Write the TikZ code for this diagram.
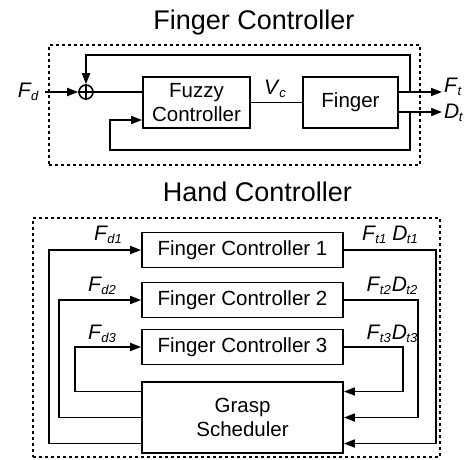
\documentclass[tikz,border=0pt]{standalone}
\usepackage{fontspec}
\setmainfont{Liberation Sans}
\usetikzlibrary{arrows.meta}
\newcommand\Lab[2]{\textit{#1}\kern-0.5pt\raisebox{-3.5pt}{\fontsize{13}{13}\selectfont\textit{#2}}}
\tikzset{
  box/.style={draw, line width=1.8pt, inner sep=0pt, align=center, font=\fontsize{20.5}{24}\selectfont},
  dashbox/.style={draw, line width=1.2pt, dash pattern=on 3pt off 3pt, inner sep=0pt},
  lab/.style={inner sep=0pt, font=\fontsize{21}{22}\selectfont},
  ttl/.style={inner sep=0pt, font=\fontsize{27}{30}\selectfont},
  wire/.style={line width=1.8pt},
  arr/.style={line width=1.8pt, -{Triangle[length=11pt,width=8pt]}}
}
\begin{document}
\begin{tikzpicture}[x=1pt,y=-1pt]
\useasboundingbox (0,0) rectangle (473,459);
% titles
\node[ttl, anchor=base] (t1) at (254,29) {Finger Controller};
\node[ttl, anchor=base] (t2) at (257.5,201) {Hand Controller};
% ---------- finger controller ----------
\node[dashbox, minimum width=371pt, minimum height=120pt] (fcframe) at (234.5,105) {};
\node[box, minimum width=107pt, minimum height=51pt] (fuzzy) at (196.5,102.5) {Fuzzy\\Controller};
\node[box, minimum width=95pt, minimum height=51pt] (finger) at (350.5,102.5) {Finger};
\node[draw, circle, line width=1.6pt, minimum size=14pt, inner sep=0pt] (sum) at (86,92) {};
\draw[line width=1.6pt] (sum.north) -- (sum.south) (sum.west) -- (sum.east);
\node[lab, anchor=east] (fd) at (39,92) {\Lab{F}{d}};
\coordinate (fdstart) at (45,92);
\draw[arr] (fdstart) -- (sum.west);
\draw[wire] (sum.east) -- (sum.east -| fuzzy.west);
\draw[wire] (fuzzy.east) -- (finger.west);
\node[lab] (vc) at (275,89) {\Lab{V}{c}};
\coordinate (ft) at (442,92);
\coordinate (dt) at (442,112);
\draw[arr] (finger.east |- ft) -- (ft);
\draw[arr] (finger.east |- dt) -- (dt);
\node[lab, anchor=west] (ftl) at (444,87) {\Lab{F}{t}};
\node[lab, anchor=west] (dtl) at (444,113) {\Lab{D}{t}};
\coordinate (fb1) at (410,92);
\coordinate (fbtop) at (410,55);
\draw[arr] (fb1) -- (fbtop) -| (sum.north);
\coordinate (fb2) at (410,112);
\coordinate (fbb) at (110,150);
\draw[arr] (fb2) |- (fbb) |- ([yshift=-17.5pt]fuzzy.west);
% ---------- hand controller ----------
\node[dashbox, minimum width=407pt, minimum height=239pt] (hcframe) at (236.5,337.5) {};
\node[box, minimum width=201pt, minimum height=35pt] (fc1) at (242.5,250) {Finger Controller 1};
\node[box, minimum width=201pt, minimum height=35pt] (fc2) at (242.5,300) {Finger Controller 2};
\node[box, minimum width=201pt, minimum height=35pt] (fc3) at (242.5,347) {Finger Controller 3};
\node[box, minimum width=201pt, minimum height=71pt] (gs) at (242.5,417.5) {Grasp\\Scheduler};
% left loops
\coordinate (l1) at (49,0);
\coordinate (l2) at (59,0);
\coordinate (l3) at (75,0);
\draw[arr] ([yshift=-26pt]gs.west) -| (l1 |- fc1.west) -- (fc1.west);
\draw[arr] (gs.west) -| (l2 |- fc2.west) -- (fc2.west);
\draw[arr] ([yshift=26pt]gs.west) -| (l3 |- fc3.west) -- (fc3.west);
% right loops
\coordinate (r1) at (436,443.5);
\coordinate (r2) at (418,417.5);
\coordinate (r3) at (403,391.5);
\draw[arr] (fc1.east) -| (r1) -- (r1 -| gs.east);
\draw[arr] (fc2.east) -| (r2) -- (r2 -| gs.east);
\draw[arr] (fc3.east) -| (r3) -- (r3 -| gs.east);
% labels
\node[lab] (fd1) at (108,235) {\Lab{F}{d1}};
\node[lab] (fd2) at (102,286) {\Lab{F}{d2}};
\node[lab] (fd3) at (102,334) {\Lab{F}{d3}};
\node[lab] (fo1) at (390,235) {\Lab{F}{t1}\hspace{6pt}\Lab{D}{t1}};
\node[lab] (fo2) at (392,286) {\Lab{F}{t2}\hspace{1pt}\Lab{D}{t2}};
\node[lab] (fo3) at (392,334) {\Lab{F}{t3}\hspace{1pt}\Lab{D}{t3}};
\end{tikzpicture}
\end{document}
